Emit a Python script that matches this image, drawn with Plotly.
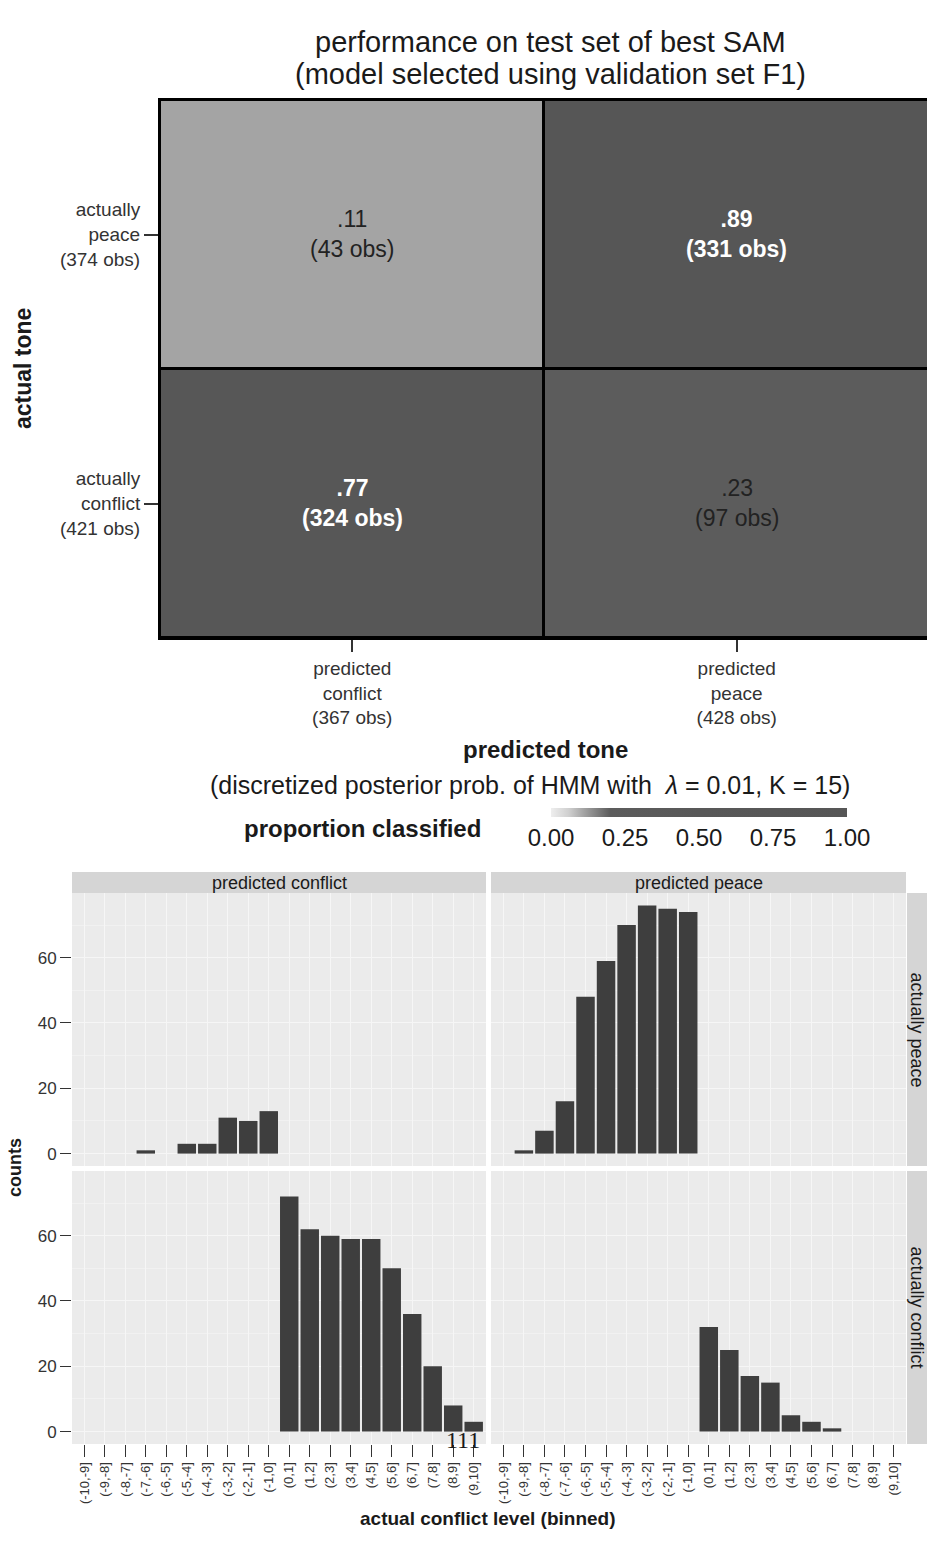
import plotly.graph_objects as go

W, H = 927, 1556


def px(x):
    return x / W


def py(y):
    return 1 - y / H


FONT = "Liberation Sans"

# ---------------- data ----------------
pred_tone = ["predicted conflict", "predicted peace"]
actual_tone = ["actually conflict", "actually peace"]
# rows follow actual_tone, columns follow pred_tone
proportion = [[0.77, 0.23], [0.11, 0.89]]
obs = [[324, 97], [43, 331]]
pred_obs = [367, 428]
actual_obs = [421, 374]

bins = ["(-10,-9]", "(-9,-8]", "(-8,-7]", "(-7,-6]", "(-6,-5]", "(-5,-4]",
        "(-4,-3]", "(-3,-2]", "(-2,-1]", "(-1,0]", "(0,1]", "(1,2]", "(2,3]",
        "(3,4]", "(4,5]", "(5,6]", "(6,7]", "(7,8]", "(8,9]", "(9,10]"]

peace_predconflict = [0, 0, 0, 1, 0, 3, 3, 11, 10, 13, 0, 0, 0, 0, 0, 0, 0, 0, 0, 0]
peace_predpeace = [0, 1, 7, 16, 48, 59, 70, 76, 75, 74, 0, 0, 0, 0, 0, 0, 0, 0, 0, 0]
conflict_predconflict = [0, 0, 0, 0, 0, 0, 0, 0, 0, 0, 72, 62, 60, 59, 59, 50, 36, 20, 8, 3]
conflict_predpeace = [0, 0, 0, 0, 0, 0, 0, 0, 0, 0, 32, 25, 17, 15, 5, 3, 1, 0, 0, 0]

y_ticks = [0, 20, 40, 60]
cbar_ticks = [0, 0.25, 0.5, 0.75, 1.0]

fig = go.Figure()

# ---------------- confusion heatmap ----------------
colorscale = [[0.0, "#eeeeee"], [0.06, "#cfcfcf"], [0.11, "#a4a4a4"],
              [0.2, "#5c5c5c"], [0.5, "#585858"], [1.0, "#565656"]]
fig.add_trace(go.Heatmap(
    x=pred_tone, y=actual_tone, z=proportion, zmin=0, zmax=1,
    colorscale=colorscale, xgap=3, ygap=3, xaxis="x", yaxis="y",
    hoverinfo="skip",
    colorbar=dict(
        orientation="h", x=px(699), xanchor="center", y=py(808), yanchor="top",
        lenmode="pixels", len=296, thicknessmode="pixels", thickness=9,
        outlinewidth=0, xpad=0, ypad=0, ticks="", ticklen=0,
        tickvals=cbar_ticks, ticktext=[f"{v:.2f}" for v in cbar_ticks],
        tickfont=dict(family=FONT, size=24, color="#1a1a1a"),
    ),
))


def ann(x, y, text, size, color="#1a1a1a", angle=0, family=FONT, **kw):
    return dict(x=x, y=y, text=text, showarrow=False, textangle=angle,
                xanchor="center", yanchor="middle",
                font=dict(family=family, size=size, color=color), **kw)


annotations = []
for i, a in enumerate(actual_tone):
    for j, p in enumerate(pred_tone):
        val = proportion[i][j]
        txt = f"{val:.2f}".lstrip("0") + f"<br>({obs[i][j]} obs)"
        correct = a.split()[-1] == p.split()[-1]
        if correct:
            txt = "<b>" + txt + "</b>"
        annotations.append(ann(p, a, txt, 23,
                               color="white" if correct else "#222222",
                               xref="x", yref="y"))

# ---------------- faceted bar charts ----------------
facets = [
    ("x2", "y2", peace_predconflict),
    ("x3", "y3", peace_predpeace),
    ("x4", "y4", conflict_predconflict),
    ("x5", "y5", conflict_predpeace),
]
for xa, ya, vals in facets:
    fig.add_trace(go.Bar(
        x=bins, y=vals, xaxis=xa, yaxis=ya, marker_color="#3e3e3e",
        marker_line_width=0, width=0.9, hoverinfo="skip", showlegend=False,
    ))

left_dom = [px(72), px(486)]
right_dom = [px(491), px(906)]
top_dom = [py(1166), py(893)]
bot_dom = [py(1444), py(1171)]

tick_font = dict(family=FONT, size=19, color="#333333")

layout = dict(
    width=W, height=H,
    margin=dict(l=0, r=0, t=0, b=0),
    paper_bgcolor="white", plot_bgcolor="white",
    showlegend=False,
    bargap=0.1,
    font=dict(family=FONT, color="#333333"),
    xaxis=dict(
        domain=[px(160), 1.0], anchor="y", type="category",
        categoryorder="array", categoryarray=pred_tone,
        range=[-0.5, 1.495], tickvals=pred_tone,
        ticktext=[p.replace(" ", "<br>") + f"<br>({n} obs)" for p, n in zip(pred_tone, pred_obs)],
        ticks="outside", ticklen=12, tickwidth=1.5, tickcolor="#333333",
        tickfont=tick_font, showgrid=False, zeroline=False,
        showline=True, mirror=True, linecolor="black", linewidth=2,
    ),
    yaxis=dict(
        domain=[py(638), py(100)], anchor="x", type="category",
        categoryorder="array", categoryarray=actual_tone,
        range=[-0.5, 1.5], tickvals=actual_tone,
        ticktext=[a.replace(" ", "<br>") + f"<br>({n} obs)" for a, n in zip(actual_tone, actual_obs)],
        ticks="outside", ticklen=14, tickwidth=1.5, tickcolor="#333333",
        tickfont=tick_font, showgrid=False, zeroline=False,
        showline=True, mirror=False, linecolor="black", linewidth=2,
    ),
)

facet_axes = {
    "x2": (left_dom, "y2", False), "x3": (right_dom, "y3", False),
    "x4": (left_dom, "y4", True), "x5": (right_dom, "y5", True),
}
for name, (dom, anchor, show) in facet_axes.items():
    layout["xaxis" + name[1:]] = dict(
        domain=dom, anchor=anchor, type="category",
        categoryorder="array", categoryarray=bins, range=[-0.6, 19.6],
        showgrid=True, gridcolor="#f6f6f6", gridwidth=1, zeroline=False,
        showticklabels=show, ticks="outside" if show else "",
        ticklen=12, tickwidth=1.2, tickcolor="#333333", tickangle=-90,
        tickfont=dict(family=FONT, size=13, color="#333333"),
    )

facet_yaxes = {
    "y2": (top_dom, "x2", True), "y3": (top_dom, "x3", False),
    "y4": (bot_dom, "x4", True), "y5": (bot_dom, "x5", False),
}
for name, (dom, anchor, show) in facet_yaxes.items():
    layout["yaxis" + name[1:]] = dict(
        domain=dom, anchor=anchor, range=[-3.8, 79.8],
        tickvals=y_ticks, showticklabels=show,
        ticks="outside" if show else "", ticklen=11, tickwidth=1.2,
        tickcolor="#333333", tickfont=dict(family=FONT, size=17, color="#333333"),
        showgrid=True, gridcolor="#f6f6f6", gridwidth=1, zeroline=False,
        minor=dict(tick0=10, dtick=20, showgrid=True, gridcolor="#f1f1f1", gridwidth=0.6),
    )

fig.update_layout(**layout)

shapes = [
    # black backdrop so heatmap gaps read as cell borders
    dict(type="rect", xref="x domain", yref="y domain", x0=0, x1=1, y0=0, y1=1,
         fillcolor="black", line_width=0, layer="below"),
]
for xa, ya, _ in facets:
    shapes.append(dict(type="rect", xref=f"{xa} domain", yref=f"{ya} domain",
                       x0=0, x1=1, y0=0, y1=1, fillcolor="#ebebeb",
                       line_width=0, layer="below"))
# strips
for dom in (left_dom, right_dom):
    shapes.append(dict(type="rect", xref="paper", yref="paper",
                       x0=dom[0], x1=dom[1], y0=py(893), y1=py(872),
                       fillcolor="#d5d5d5", line_width=0, layer="below"))
for dom in (top_dom, bot_dom):
    shapes.append(dict(type="rect", xref="paper", yref="paper",
                       x0=px(907), x1=1.0, y0=dom[0], y1=dom[1],
                       fillcolor="#d5d5d5", line_width=0, layer="below"))

P = dict(xref="paper", yref="paper")
annotations += [
    ann((left_dom[0] + left_dom[1]) / 2, py(882.5), pred_tone[0], 18, **P),
    ann((right_dom[0] + right_dom[1]) / 2, py(882.5), pred_tone[1], 18, **P),
    ann(px(917), (top_dom[0] + top_dom[1]) / 2, actual_tone[1], 18, angle=90, **P),
    ann(px(917), (bot_dom[0] + bot_dom[1]) / 2, actual_tone[0], 18, angle=90, **P),
    # titles
    ann(px(550), py(42), "performance on test set of best SAM", 29, **P),
    ann(px(550), py(74), "(model selected using validation set F1)", 29, **P),
    ann(px(23), py(369), "<b>actual tone</b>", 23, angle=-90, **P),
    ann(px(545), py(750), "<b>predicted tone</b>", 24, **P),
    ann(px(530), py(785), "(discretized posterior prob. of HMM with  <i>λ</i> = 0.01, K = 15)", 25, **P),
    ann(px(362), py(828), "<b>proportion classified</b>", 24, **P),
    ann(px(15), py(1168), "<b>counts</b>", 18, angle=-90, **P),
    ann(px(488), py(1518), "<b>actual conflict level (binned)</b>", 19, **P),
    ann(px(463), py(1440), "111", 24, family="Liberation Serif", **P),
]

fig.update_layout(shapes=shapes, annotations=annotations)
fig.write_html("out.html", config={"displayModeBar": False},
               post_script="document.body.style.margin='0px';")
